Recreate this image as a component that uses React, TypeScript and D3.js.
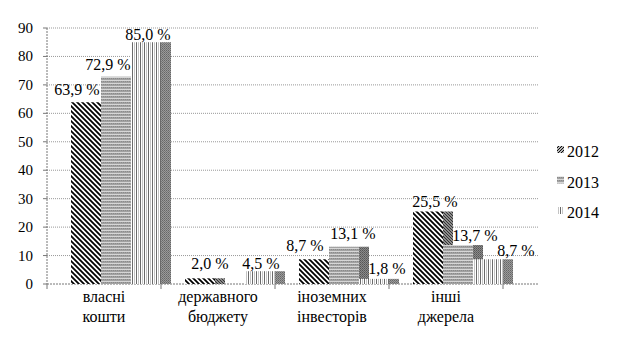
import * as d3 from "d3";
import React from "react";

// categories (two text lines each) and series
const categories = [
  ["власні", "кошти"],
  ["державного", "бюджету"],
  ["іноземних", "інвесторів"],
  ["інші", "джерела"],
];
const years = ["2012", "2013", "2014"];
const v2012 = [63.9, 2.0, 8.7, 25.5];
const v2013 = [72.9, 0, 13.1, 13.7];
const v2014 = [85.0, 4.5, 1.8, 8.7];
const yTicks = [0, 10, 20, 30, 40, 50, 60, 70, 80, 90];

// hand-placed value labels: [dx from front start, dy from bar top]
const labelShift = [
  [[6, -7], [7, -7], [17, -2]],
  [[25, -9], [0, 0], [16, -2]],
  [[6, -8], [24, -8], [28, -5]],
  [[22, -4], [32, -4], [43, -3]],
];

const W = 619, H = 361;
const fam = "Liberation Serif, DejaVu Serif, serif";

const x = d3.scaleBand()
  .domain(categories.map((c) => c.join(" ")))
  .range([47, 503]);
const depth = 35; // room for the column side faces
const y = d3.scaleLinear().domain([0, 90]).range([284, 28]);

const seriesValues = [v2012, v2013, v2014];
const frontW = 30, sideW = 10, offset0 = 24;

const fmt = (v) => v.toFixed(1).replace(".", ",") + " %";

export default function App() {
  const x0 = x.range()[0];
  const x1 = x.range()[1] + depth;
  return (
    <svg width={W} height={H} style={{ position: "absolute", left: 0, top: 0, background: "#fff" }}>
      <defs>
        <pattern id="p2012" patternUnits="userSpaceOnUse" width={5} height={5}>
          <rect width={5} height={5} fill="#fff" />
          <path d="M0,0L5,5M-1,4L1,6M4,-1L6,1" stroke="#000" strokeWidth={1.8} />
        </pattern>
        <pattern id="p2013" patternUnits="userSpaceOnUse" width={2} height={3}>
          <rect width={2} height={3} fill="#a2a2a2" />
          <rect y={2} width={2} height={1} fill="#d6d6d6" />
          <rect x={1} width={1} height={1} fill="#8a8a8a" />
        </pattern>
        <pattern id="p2014" patternUnits="userSpaceOnUse" width={4} height={4}>
          <rect width={4} height={4} fill="#fff" />
          <rect x={0} width={1} height={4} fill="#6a6a6a" />
          <rect x={2} width={1} height={4} fill="#c4c4c4" />
        </pattern>
        <pattern id="s2012" patternUnits="userSpaceOnUse" width={3} height={3}>
          <rect width={3} height={3} fill="#8c8c8c" />
          <path d="M0,0L3,3M-1,2L1,4M2,-1L4,1" stroke="#333" strokeWidth={1} />
        </pattern>
        <pattern id="s2013" patternUnits="userSpaceOnUse" width={2} height={2}>
          <rect width={2} height={2} fill="#8a8a8a" />
          <rect width={1} height={1} fill="#555" />
          <rect x={1} y={1} width={1} height={1} fill="#666" />
        </pattern>
        <pattern id="s2014" patternUnits="userSpaceOnUse" width={2} height={2}>
          <rect width={2} height={2} fill="#9a9a9a" />
          <rect width={1} height={1} fill="#666" />
          <rect x={1} y={1} width={1} height={1} fill="#777" />
        </pattern>
        <pattern id="l2012" patternUnits="userSpaceOnUse" width={3} height={3}>
          <rect width={3} height={3} fill="#fff" />
          <path d="M0,3L3,0M-1,1L1,-1M2,4L4,2" stroke="#000" strokeWidth={1.1} />
        </pattern>
      </defs>

      {/* gridlines */}
      {yTicks.map((t) => (
        <line key={"g" + t} x1={x0} x2={x1} y1={y(t)} y2={y(t)}
          stroke={t === 0 ? "#777" : "#999"} strokeDasharray={t === 0 ? "2,1" : "1,1"} />
      ))}
      {/* y axis */}
      <line x1={x0} x2={x0} y1={y(90)} y2={y(0)} stroke="#777" strokeDasharray="2,1" />
      {yTicks.map((t) => (
        <g key={"t" + t}>
          <line x1={x0 - 4} x2={x0} y1={y(t)} y2={y(t)} stroke="#777" />
          <text x={33} y={y(t) + 5} textAnchor="end" fontFamily={fam} fontSize={15} fill="#000">{t}</text>
        </g>
      ))}
      {/* x ticks at category boundaries */}
      {categories.map((c, i) => {
        const bx = x(c.join(" "));
        return <line key={"xt" + i} x1={bx} x2={bx} y1={y(0)} y2={y(0) + 5} stroke="#777" />;
      })}
      <line x1={x.range()[1]} x2={x.range()[1]} y1={y(0)} y2={y(0) + 5} stroke="#777" />

      {/* bars: front face + side face, later series on top */}
      {seriesValues.map((vals, s) => (
        <g key={"s" + s}>
          {vals.map((v, i) => {
            if (!v) return null;
            const fx = x(categories[i].join(" ")) + offset0 + s * frontW;
            const top = y(v);
            return (
              <g key={i}>
                <rect x={fx} y={top} width={frontW} height={y(0) - top} fill={`url(#p${years[s]})`} />
                <rect x={fx + frontW} y={top} width={sideW} height={y(0) - top} fill={`url(#s${years[s]})`} />
              </g>
            );
          })}
        </g>
      ))}

      {/* value labels */}
      {seriesValues.map((vals, s) =>
        vals.map((v, i) => {
          if (!v) return null;
          const fx = x(categories[i].join(" ")) + offset0 + s * frontW;
          const [dx, dy] = labelShift[i][s];
          return (
            <text key={`l${s}-${i}`} x={fx + dx} y={y(v) + dy} textAnchor="middle"
              fontFamily={fam} fontSize={16} fill="#000">{fmt(v)}</text>
          );
        })
      )}

      {/* category labels */}
      {categories.map((c, i) => {
        const cx = x(c.join(" ")) + x.bandwidth() / 2;
        return (
          <text key={"c" + i} textAnchor="middle" fontFamily={fam} fontSize={16} fill="#000">
            <tspan x={cx} y={302}>{c[0]}</tspan>
            <tspan x={cx} y={322}>{c[1]}</tspan>
          </text>
        );
      })}

      {/* legend */}
      {years.map((yr, i) => {
        const by = 157 + i * 30.5;
        return (
          <g key={"lg" + yr}>
            <rect x={557} y={by - 11} width={7} height={7} fill={i === 0 ? "url(#l2012)" : `url(#p${yr})`} />
            <text x={567} y={by} fontFamily={fam} fontSize={16} fill="#000">{yr}</text>
          </g>
        );
      })}
    </svg>
  );
}
